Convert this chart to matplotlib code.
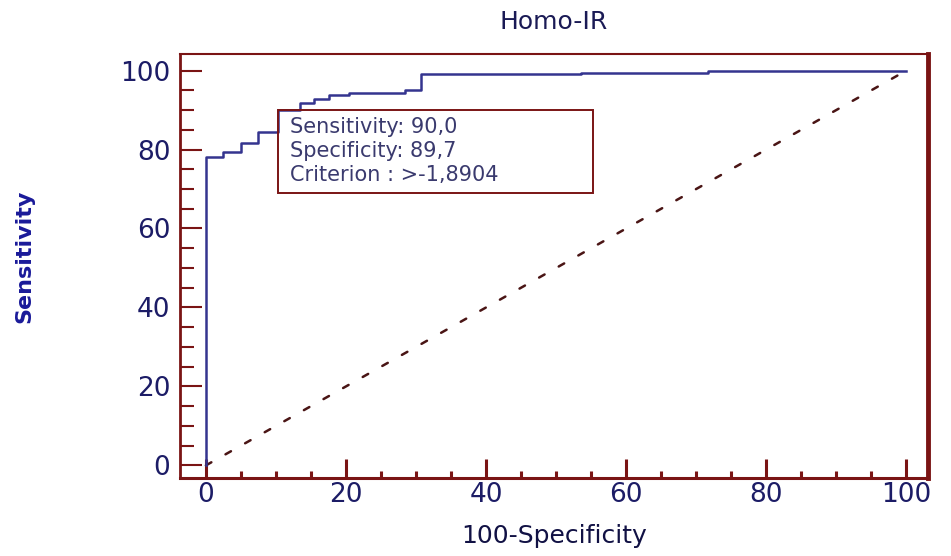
import matplotlib
matplotlib.use("Agg")
import matplotlib.pyplot as plt
from matplotlib.patches import Rectangle

# ---- data ----
fpr = [0, 0, 2.4, 5.0, 7.4, 10.3, 13.4, 15.5, 17.6, 20.5, 28.4, 30.7, 53.6, 71.7, 100]
tpr = [0, 78.2, 79.4, 81.7, 84.5, 90.0, 91.8, 92.7, 93.8, 94.4, 95.2, 99.1, 99.5, 100, 100]
diag_x = [0, 100]
diag_y = [0, 100]
title = "Homo-IR"
xlabel = "100-Specificity"
ylabel = "Sensitivity"
xticks = [0, 20, 40, 60, 80, 100]
yticks = [0, 20, 40, 60, 80, 100]
cut_sens = 90.0
cut_spec = 89.7
criterion = ">-1,8904"
box_lines = ["Sensitivity: 90,0", "Specificity: 89,7", "Criterion : " + criterion]

FRAME = "#7a1414"
NAVY = "#1c1c66"
CURVE = "#34348f"

fig = plt.figure(figsize=(9.51, 5.56), dpi=100)
ax = fig.add_axes([180 / 951, 1 - 478 / 556, (928 - 180) / 951, (478 - 54) / 556])

ax.plot(fpr, tpr, drawstyle="steps-post", color=CURVE, lw=1.8, zorder=3)
ax.plot(diag_x, diag_y, color="#4a1515", lw=1.8, dashes=(2.5, 6.5), dash_capstyle="round", zorder=2)

ax.set_xlim(-3.7, 103.1)
ax.set_ylim(-3.2, 104.2)

ax.set_xticks(xticks)
ax.set_yticks(yticks)
ax.set_xticks(range(0, 101, 5), minor=True)
ax.set_yticks(range(0, 101, 5), minor=True)

ax.tick_params(axis="x", which="major", direction="in", length=13.5, width=2.2, color=FRAME,
               labelsize=19, labelcolor=NAVY, pad=3)
ax.tick_params(axis="x", which="minor", direction="in", length=5, width=2.2, color=FRAME)
ax.tick_params(axis="y", which="major", direction="in", length=16, width=1.5, color=FRAME,
               labelsize=19, labelcolor=NAVY, pad=7)
ax.tick_params(axis="y", which="minor", direction="in", length=10, width=1.5, color=FRAME)

for side, w in [("left", 2.0), ("top", 1.5), ("right", 3.5), ("bottom", 2.2)]:
    ax.spines[side].set_color(FRAME)
    ax.spines[side].set_linewidth(w)

fig.text((180 + 928) / 2 / 951, 1 - 22 / 556, title, fontsize=18, color="#1a1a55",
         ha="center", va="center")
ax.set_xlabel(xlabel, fontsize=18, color="#111144")
ax.xaxis.set_label_coords(0.5, (478 - 536) / 424)
ax.xaxis.label.set_va("center")
ax.set_ylabel(ylabel, fontsize=16, color="#1a1a99", fontweight="bold")
ax.yaxis.set_label_coords((24 - 180) / 748, (478 - 256) / 424)
ax.yaxis.label.set_va("center")

# cut-off annotation box anchored at the criterion point
bx = 100 - cut_spec
by = cut_sens
ax.add_patch(Rectangle((bx, by - 21.0), 44.9, 21.0, fill=False, edgecolor=FRAME, lw=1.4, zorder=4))
for i, line in enumerate(box_lines):
    ax.text(bx + 1.7, by - 4.4 - i * 6.0, line, fontsize=15, color="#3a3a6e",
            va="center", ha="left", zorder=5)

fig.savefig("out.png", dpi=100, facecolor="white")
